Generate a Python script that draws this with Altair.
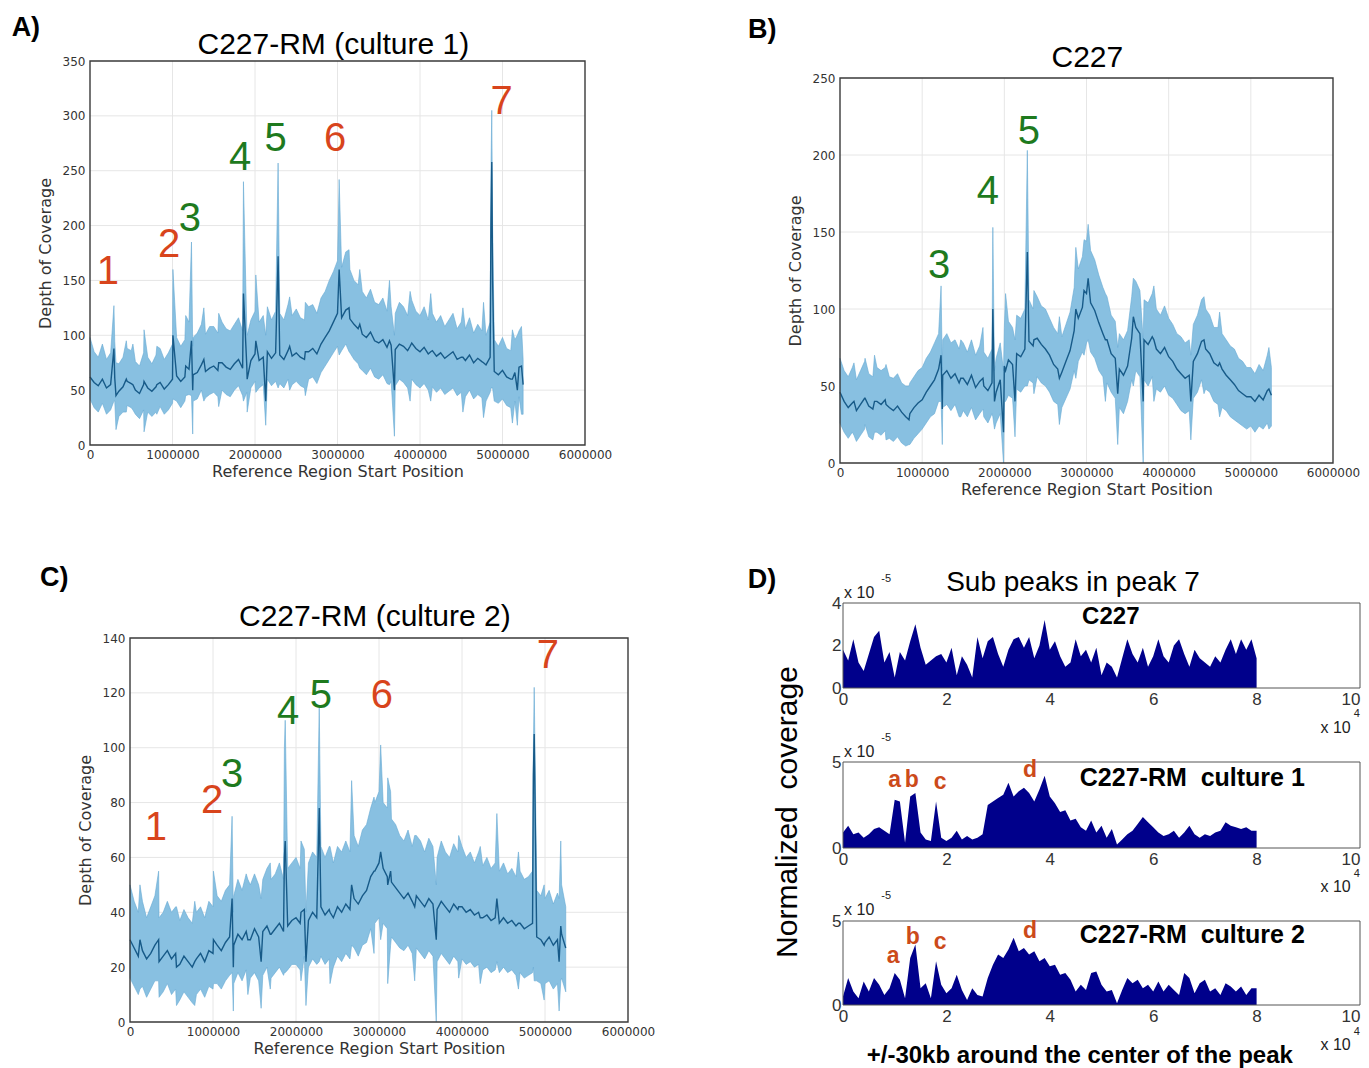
import altair as alt
import pandas as pd

WIDTH, HEIGHT = 1353, 1060
STEP = 50000          # spacing of the coverage bins (bp)
D_STEP = 0.1          # spacing of the sub-peak bins (x 10^4 bp)
XMAX = 6000000
X_TICKS = [0, 1000000, 2000000, 3000000, 4000000, 5000000, 6000000]

RED = "#d8441c"
GREEN = "#1e7a1e"
LETTER_RED = "#cc4a1a"
BAND = "#88c0e1"
BAND_EDGE = "#67aad4"
MEAN_COL = "#175a88"
GRID = "#e6e6e6"
FRAME = "#3a3a3a"
NAVY = "#00008b"
AXIS_TEXT = "#333333"
DEJAVU = "DejaVu Sans"
SANS = "Liberation Sans"

# ---------------- Panel A : C227-RM (culture 1) ----------------
A_MEAN = [62, 57, 54, 60, 52, 55, 61, 49, 53, 58,
          56, 50, 47, 55, 52, 49, 53, 57, 51, 55,
          60, 63, 58, 62, 69, 64, 66, 73, 67, 70,
          72, 68, 75, 71, 69, 74, 78, 70, 73, 77,
          83, 77, 80, 85, 79, 84, 82, 78, 86, 81,
          84, 80, 78, 85, 88, 83, 92, 98, 104, 112,
          120, 116, 123, 115, 110, 106, 101, 98, 103, 95,
          93, 96, 89, 91, 87, 92, 90, 86, 93, 88,
          85, 89, 83, 86, 81, 84, 79, 82, 85, 78,
          80, 77, 82, 75, 79, 76, 73, 80, 67, 64,
          68, 62, 60, 66, 71, 55]
A_UPPER = [98, 85, 80, 92, 78, 84, 94, 74, 80, 88,
           86, 76, 72, 84, 80, 74, 82, 88, 78, 84,
           92, 98, 90, 96, 112, 98, 102, 110, 101, 108,
           108, 102, 112, 106, 104, 110, 116, 104, 108, 114,
           122, 112, 118, 126, 114, 122, 120, 114, 128, 118,
           124, 116, 114, 126, 128, 120, 134, 140, 150, 158,
           168, 162, 176, 160, 150, 146, 140, 134, 142, 130,
           128, 134, 122, 126, 120, 130, 126, 118, 132, 122,
           118, 126, 114, 120, 112, 118, 108, 114, 120, 106,
           112, 106, 116, 102, 110, 104, 100, 112, 96, 90,
           98, 88, 86, 96, 104, 78]
A_LOWER = [42, 34, 30, 38, 28, 32, 40, 26, 30, 36,
           34, 28, 24, 32, 30, 26, 30, 35, 28, 32,
           38, 40, 34, 40, 46, 40, 42, 50, 43, 46,
           48, 44, 50, 46, 44, 50, 54, 45, 48, 52,
           58, 52, 55, 60, 54, 58, 56, 52, 60, 55,
           58, 54, 52, 60, 62, 56, 66, 72, 78, 84,
           90, 86, 92, 84, 78, 74, 68, 64, 70, 62,
           60, 64, 56, 58, 54, 60, 57, 52, 60, 55,
           52, 56, 50, 53, 48, 52, 46, 49, 52, 45,
           48, 44, 50, 42, 46, 43, 40, 48, 40, 38,
           42, 36, 34, 40, 44, 28]
# (position, upper, lower, mean)
A_SPIKES = [(290000, 127, 40, 88), (315000, 75, 14, 45), (440000, 95, 30, 60),
            (520000, 92, 32, 55), (655000, 105, 12, 58), (810000, 90, 28, 55),
            (1005000, 160, 42, 100), (1160000, 118, 45, 72), (1230000, 185, 45, 95),
            (1245000, 90, 10, 50), (1380000, 125, 40, 78), (1560000, 120, 35, 75),
            (1860000, 240, 40, 138), (1905000, 100, 30, 60), (2010000, 155, 48, 95),
            (2130000, 100, 18, 40), (2280000, 257, 52, 172), (2420000, 135, 50, 90),
            (2610000, 130, 45, 85), (3020000, 242, 82, 160), (3140000, 178, 85, 125),
            (3270000, 160, 70, 110), (3630000, 150, 55, 95), (3690000, 100, 8, 50),
            (3880000, 140, 40, 90), (4130000, 138, 40, 85), (4520000, 125, 30, 80),
            (4770000, 130, 25, 75), (4860000, 250, 52, 200), (4870000, 305, 52, 258),
            (4880000, 200, 52, 150), (5120000, 105, 20, 60), (5180000, 100, 18, 50),
            (5230000, 108, 28, 72)]
A_LABELS = ["1", "2", "3", "4", "5", "6", "7"]
A_LABEL_X = [218000, 958000, 1210000, 1820000, 2250000, 2970000, 4990000]
A_LABEL_Y = [158, 182, 206, 262, 279, 279, 313]
A_LABEL_COL = [RED, RED, GREEN, GREEN, GREEN, RED, RED]

# ---------------- Panel B : C227 ----------------
B_MEAN = [46, 40, 36, 39, 34, 38, 42, 37, 35, 40,
          38, 41, 36, 34, 37, 33, 30, 32, 36, 39,
          41, 46, 50, 54, 61, 57, 60, 55, 58, 52,
          55, 51, 57, 49, 53, 50, 47, 52, 46, 54,
          63, 67, 64, 71, 69, 74, 79, 76, 81, 77,
          74, 70, 64, 61, 59, 66, 73, 86, 94, 101,
          110, 104, 99, 91, 84, 80, 71, 68, 61, 57,
          63, 81, 88, 84, 80, 77, 82, 74, 71, 75,
          69, 66, 61, 58, 55, 57, 66, 71, 79, 74,
          71, 65, 63, 61, 57, 54, 51, 47, 45, 43,
          43, 40, 44, 41, 47, 44]
B_UPPER = [68, 60, 56, 62, 54, 60, 66, 58, 56, 62,
           60, 62, 56, 55, 58, 52, 50, 52, 56, 60,
           62, 68, 72, 78, 84, 80, 84, 78, 80, 74,
           78, 72, 80, 70, 76, 72, 68, 74, 68, 78,
           88, 92, 88, 96, 94, 100, 106, 100, 108, 102,
           100, 94, 88, 84, 82, 90, 98, 114, 126, 134,
           144, 138, 132, 122, 114, 108, 96, 92, 84, 80,
           86, 108, 118, 112, 106, 104, 110, 100, 96, 102,
           94, 90, 84, 82, 78, 80, 90, 96, 106, 100,
           96, 88, 88, 84, 80, 76, 74, 68, 66, 62,
           62, 58, 64, 60, 70, 62]
B_LOWER = [26, 20, 16, 20, 14, 18, 22, 17, 15, 20,
           18, 21, 16, 14, 17, 13, 11, 12, 16, 19,
           22, 26, 30, 32, 40, 36, 38, 34, 38, 30,
           34, 30, 36, 28, 32, 30, 26, 32, 26, 32,
           40, 44, 42, 48, 46, 50, 54, 52, 56, 52,
           50, 46, 40, 38, 36, 42, 48, 60, 66, 72,
           78, 72, 68, 60, 56, 52, 46, 42, 36, 32,
           40, 54, 60, 56, 54, 50, 56, 48, 46, 50,
           44, 42, 38, 34, 32, 34, 42, 46, 54, 48,
           46, 40, 38, 36, 34, 30, 28, 26, 24, 22,
           24, 20, 24, 22, 26, 24]
B_SPIKES = [(170000, 65, 18, 40), (305000, 68, 25, 42), (420000, 70, 20, 40),
            (560000, 64, 15, 38), (840000, 50, 12, 28), (1230000, 115, 40, 70),
            (1245000, 60, 12, 35), (1470000, 80, 30, 55), (1740000, 88, 35, 55),
            (1860000, 153, 30, 100), (1880000, 60, 22, 40), (1990000, 60, 0, 20),
            (2015000, 110, 40, 60), (2130000, 80, 17, 40), (2280000, 203, 50, 137),
            (2360000, 112, 45, 80), (2670000, 95, 25, 55), (2870000, 140, 55, 100),
            (2970000, 145, 70, 112), (3020000, 155, 80, 120), (3230000, 110, 40, 80),
            (3380000, 75, 12, 45), (3570000, 120, 50, 95), (3690000, 80, 0, 40),
            (3820000, 115, 40, 80), (4270000, 70, 15, 40), (4430000, 108, 45, 80),
            (4620000, 98, 30, 65), (5220000, 75, 22, 48)]
B_LABELS = ["3", "4", "5"]
B_LABEL_X = [1205000, 1800000, 2300000]
B_LABEL_Y = [128, 176, 215]
B_LABEL_COL = [GREEN, GREEN, GREEN]

# ---------------- Panel C : C227-RM (culture 2) ----------------
C_MEAN = [30, 27, 24, 26, 23, 25, 28, 22, 24, 26,
          23, 25, 21, 24, 22, 20, 23, 25, 22, 26,
          25, 28, 26, 29, 31, 28, 32, 30, 33, 30,
          34, 31, 33, 35, 32, 34, 36, 33, 35, 37,
          38, 36, 41, 37, 40, 38, 42, 39, 41, 38,
          42, 40, 43, 41, 45, 43, 46, 48, 53, 55,
          58, 56, 53, 51, 49, 47, 45, 47, 44, 46,
          44, 42, 45, 43, 41, 44, 42, 40, 43, 41,
          42, 40, 41, 39, 40, 38, 39, 37, 38, 36,
          38, 36, 37, 35, 36, 34, 35, 36, 31, 30,
          29, 31, 28, 30, 32, 27]
C_UPPER = [50, 44, 40, 44, 38, 42, 46, 38, 40, 44,
           40, 42, 37, 41, 38, 36, 40, 42, 38, 44,
           42, 46, 44, 48, 50, 46, 52, 48, 54, 50,
           54, 50, 52, 56, 52, 54, 58, 52, 56, 58,
           60, 56, 63, 58, 62, 60, 64, 60, 64, 58,
           64, 62, 66, 62, 68, 64, 70, 72, 78, 80,
           84, 80, 78, 74, 72, 68, 66, 70, 64, 68,
           66, 62, 67, 64, 60, 66, 62, 60, 65, 62,
           64, 60, 62, 58, 62, 57, 60, 56, 58, 55,
           58, 54, 56, 53, 55, 52, 53, 55, 48, 46,
           45, 48, 43, 47, 50, 42]
C_LOWER = [16, 13, 10, 13, 9, 12, 15, 9, 11, 14,
           10, 12, 8, 11, 9, 7, 10, 12, 9, 13,
           12, 14, 12, 15, 17, 14, 18, 15, 19, 16,
           18, 15, 17, 20, 16, 18, 20, 17, 19, 21,
           21, 19, 24, 20, 23, 21, 24, 21, 23, 20,
           24, 22, 25, 23, 27, 24, 28, 29, 34, 36,
           38, 36, 34, 31, 29, 27, 26, 28, 25, 27,
           25, 23, 26, 24, 22, 25, 23, 21, 24, 22,
           23, 21, 22, 20, 21, 19, 20, 18, 19, 18,
           20, 18, 19, 17, 18, 16, 17, 18, 15, 14,
           14, 15, 12, 14, 16, 11]
C_SPIKES = [(120000, 50, 12, 30), (345000, 55, 15, 30), (560000, 42, 6, 20),
            (780000, 44, 6, 22), (1005000, 55, 14, 30), (1230000, 75, 18, 45),
            (1245000, 40, 4, 20), (1420000, 52, 10, 30), (1580000, 45, 5, 22),
            (1690000, 58, 12, 32), (1860000, 100, 18, 60), (1870000, 110, 18, 66),
            (2060000, 66, 15, 40), (2120000, 40, 6, 22), (2280000, 115, 22, 78),
            (2410000, 64, 14, 40), (2670000, 88, 28, 50), (2940000, 82, 25, 55),
            (3020000, 101, 30, 62), (3105000, 89, 14, 50), (3140000, 84, 28, 55),
            (3430000, 68, 15, 42), (3690000, 50, 0, 30), (3960000, 68, 16, 42),
            (4220000, 64, 14, 38), (4420000, 76, 22, 45), (4680000, 62, 12, 36),
            (4860000, 100, 20, 90), (4870000, 122, 15, 105), (4990000, 50, 8, 28),
            (5170000, 45, 4, 22), (5190000, 66, 15, 35)]
C_LABELS = ["1", "2", "3", "4", "5", "6", "7"]
C_LABEL_X = [313000, 988000, 1229000, 1904000, 2300000, 3036000, 5036000]
C_LABEL_Y = [70.7, 80.6, 90, 113, 119, 119, 133.4]
C_LABEL_COL = [RED, RED, GREEN, GREEN, GREEN, RED, RED]

# ---------------- Panel D : sub peaks in peak 7 (x 10^-5) ----------------
D1_VALUES = [1.8, 1.3, 2.3, 1.2, 0.8, 1.6, 2.4, 2.7, 1.2, 1.7,
             0.5, 1.7, 1.3, 2.2, 3.0, 1.9, 1.1, 1.3, 1.5, 1.6,
             1.2, 1.9, 0.6, 1.5, 1.1, 0.5, 2.4, 1.4, 2.2, 2.4,
             1.6, 1.0, 1.8, 2.3, 2.4, 1.9, 2.4, 1.4, 2.0, 3.2,
             1.8, 2.2, 1.5, 1.0, 1.2, 2.3, 1.5, 1.8, 1.2, 1.9,
             0.6, 1.2, 1.0, 0.5, 1.4, 2.3, 1.6, 1.2, 1.9, 1.0,
             1.5, 2.3, 1.5, 1.2, 2.0, 2.3, 1.6, 1.0, 1.8, 1.4,
             1.2, 1.0, 1.5, 1.2, 1.8, 2.3, 1.6, 2.3, 1.8, 2.3,
             1.4]
D2_VALUES = [0.9, 1.3, 0.8, 0.9, 0.6, 0.8, 1.1, 1.2, 1.0, 0.8,
             2.8, 2.7, 0.3, 3.0, 3.2, 0.9, 0.5, 0.4, 2.7, 0.6,
             0.4, 0.6, 1.0, 0.5, 0.7, 0.5, 0.6, 0.8, 2.5, 2.7,
             2.9, 3.1, 3.8, 3.0, 3.3, 3.5, 3.2, 2.7, 3.4, 4.2,
             3.0, 2.6, 2.1, 2.2, 1.6, 1.7, 1.2, 1.0, 1.6, 0.9,
             1.3, 0.6, 1.1, 0.2, 0.5, 0.8, 1.0, 1.4, 1.8, 1.5,
             1.2, 0.9, 0.7, 0.8, 1.0, 0.6, 0.9, 1.3, 0.8, 0.6,
             0.8, 0.7, 0.9, 1.0, 1.5, 1.3, 1.2, 1.1, 1.2, 1.0,
             1.0]
D3_VALUES = [0.5, 1.6, 0.8, 0.4, 1.4, 0.8, 1.6, 1.2, 0.6, 1.0,
             1.9, 1.5, 0.4, 2.8, 3.6, 1.0, 1.3, 0.4, 2.6, 1.2,
             0.7, 1.0, 1.8, 0.9, 0.3, 1.0, 0.6, 0.5, 1.6, 2.4,
             3.0, 2.8, 3.3, 4.0, 3.2, 3.4, 3.0, 3.2, 2.6, 2.8,
             2.3, 2.4, 1.8, 1.9, 1.5, 0.8, 1.2, 0.9, 1.9, 2.0,
             1.2, 0.8, 0.9, 0.1, 0.9, 1.6, 1.3, 1.5, 1.0, 1.2,
             0.8, 1.4, 0.8, 1.2, 0.9, 0.6, 1.9, 1.6, 0.7, 1.3,
             1.5, 0.8, 1.0, 0.6, 1.3, 1.1, 0.8, 1.1, 0.6, 1.0,
             1.0]
D2_LETTERS = ["a", "b", "c", "d"]
D2_LETTER_X = [1.0, 1.33, 1.88, 3.62]
D2_LETTER_Y = [3.95, 3.95, 3.84, 4.53]
D3_LETTERS = ["a", "b", "c", "d"]
D3_LETTER_X = [0.97, 1.35, 1.88, 3.62]
D3_LETTER_Y = [2.92, 4.05, 3.75, 4.4]

# ---------------- layout of the panels (pixel ranges) ----------------
A_XR, A_YR = [82, 577], [437, 53]
B_XR, B_YR = [832, 1325], [455, 70]
C_XR, C_YR = [122, 620], [1014, 630]
D_XR = [835, 1352]
D1_YR, D2_YR, D3_YR = [680, 595], [840, 754], [997, 913]


def coverage_frame(mean, upper, lower, spikes):
    rows = [{"pos": i * STEP, "mean": m, "upper": u, "lower": l}
            for i, (m, u, l) in enumerate(zip(mean, upper, lower))]
    rows += [{"pos": p, "upper": u, "lower": l, "mean": m} for p, u, l, m in spikes]
    return pd.DataFrame(rows).sort_values("pos").reset_index(drop=True)


def text_layer(xs, ys, labels, colors, X, Y, size, weight="normal", font=SANS,
               align="center", baseline="middle", angle=0):
    df = pd.DataFrame({"tx": xs, "ty": ys, "label": labels, "col": colors})
    return alt.Chart(df).mark_text(font=font, fontSize=size, fontWeight=weight,
                                   align=align, baseline=baseline, angle=angle).encode(
        x=alt.X("tx:Q", scale=X),
        y=alt.Y("ty:Q", scale=Y),
        text="label:N",
        color=alt.Color("col:N", scale=None),
    )


def coverage_panel(df, xr, yr, ymax, ystep, title, title_xy, letter, letter_xy, labels):
    X = alt.Scale(domain=[0, XMAX], range=xr, nice=False, zero=False)
    Y = alt.Scale(domain=[0, ymax], range=yr, nice=False, zero=False)
    y_ticks = list(range(0, ymax + 1, ystep))
    vgrid = pd.DataFrame({"gx": X_TICKS[1:-1], "g0": 0, "g1": ymax})
    hgrid = pd.DataFrame({"gy": y_ticks[1:-1], "g0": 0, "g1": XMAX})
    frame = pd.DataFrame({"x0": [0], "x1": [XMAX], "y0": [0], "y1": [ymax]})

    x_axis = alt.Axis(orient="bottom", offset=yr[0] - HEIGHT, values=X_TICKS, format="d",
                      labelFlush=False, labelOverlap=False, ticks=False, domain=False, grid=False,
                      labelFont=DEJAVU, labelFontSize=12, labelColor=AXIS_TEXT, labelPadding=4,
                      title="Reference Region Start Position", titleFont=DEJAVU, titleFontSize=16,
                      titleFontWeight="normal", titleColor=AXIS_TEXT, titlePadding=3)
    y_axis = alt.Axis(orient="left", offset=-xr[0], values=y_ticks, format="d",
                      labelOverlap=False, ticks=False, domain=False, grid=False,
                      labelFont=DEJAVU, labelFontSize=12, labelColor=AXIS_TEXT, labelPadding=5,
                      title="Depth of Coverage", titleFont=DEJAVU, titleFontSize=16,
                      titleFontWeight="normal", titleColor=AXIS_TEXT, titlePadding=9)

    gv = alt.Chart(vgrid).mark_rule(color=GRID, strokeWidth=1).encode(
        x=alt.X("gx:Q", scale=X, axis=x_axis), y=alt.Y("g0:Q", scale=Y, axis=y_axis), y2="g1:Q")
    gh = alt.Chart(hgrid).mark_rule(color=GRID, strokeWidth=1).encode(
        y=alt.Y("gy:Q", scale=Y), x=alt.X("g0:Q", scale=X), x2="g1:Q")
    band = alt.Chart(df).mark_area(color=BAND, stroke=BAND_EDGE, strokeWidth=0.6).encode(
        x=alt.X("pos:Q", scale=X),
        y=alt.Y("lower:Q", scale=Y),
        y2="upper:Q")
    line = alt.Chart(df).mark_line(color=MEAN_COL, strokeWidth=1.4).encode(
        x=alt.X("pos:Q", scale=X), y=alt.Y("mean:Q", scale=Y))
    box = alt.Chart(frame).mark_rect(fillOpacity=0, stroke=FRAME, strokeWidth=1.4).encode(
        x=alt.X("x0:Q", scale=X), x2="x1:Q",
        y=alt.Y("y0:Q", scale=Y), y2="y1:Q")

    t_title = text_layer([title_xy[0]], [title_xy[1]], [title], ["black"], X, Y, 30)
    t_letter = text_layer([letter_xy[0]], [letter_xy[1]], [letter], ["black"], X, Y, 27,
                          weight="bold", align="left")
    t_nums = text_layer(labels[1], labels[2], labels[0], labels[3], X, Y, 40)
    return alt.layer(gv, gh, band, line, box, t_title, t_letter, t_nums)


def sub_panel(values, yr, ymax, y_ticks, extra):
    X = alt.Scale(domain=[0, 10], range=D_XR, nice=False, zero=False)
    Y = alt.Scale(domain=[0, ymax], range=yr, nice=False, zero=False)
    df = pd.DataFrame({"pos": [round(i * D_STEP, 2) for i in range(len(values))], "v": values})
    frame = pd.DataFrame({"x0": [0], "x1": [10], "y0": [0], "y1": [ymax]})
    x_axis = alt.Axis(orient="bottom", offset=yr[0] - HEIGHT, values=[0, 2, 4, 6, 8, 10],
                      format="d", labelFlush=False, labelOverlap=False, ticks=False,
                      domain=False, grid=False,
                      labelAlign=alt.condition("datum.value == 10", alt.value("right"),
                                               alt.value("center")),
                      labelFont=SANS, labelFontSize=17, labelColor=AXIS_TEXT, labelPadding=3,
                      title=None)
    y_axis = alt.Axis(orient="left", offset=-D_XR[0], values=y_ticks, format="d",
                      labelOverlap=False, ticks=False, domain=False, grid=False,
                      labelFont=SANS, labelFontSize=17, labelColor=AXIS_TEXT, labelPadding=2,
                      title=None)
    area = alt.Chart(df).mark_area(color=NAVY).encode(
        x=alt.X("pos:Q", scale=X, axis=x_axis),
        y=alt.Y("v:Q", scale=Y, axis=y_axis))
    box = alt.Chart(frame).mark_rect(fillOpacity=0, stroke="#555555", strokeWidth=1).encode(
        x=alt.X("x0:Q", scale=X), x2="x1:Q",
        y=alt.Y("y0:Q", scale=Y), y2="y1:Q")
    layers = [area, box] + [fn(X, Y) for fn in extra]
    return alt.layer(*layers)


def exponent_marks(top_y, sup_y, low_y, low_sup_y):
    return [
        lambda X, Y: text_layer([0.02], [top_y], ["x 10"], ["#222"], X, Y, 16, align="left"),
        lambda X, Y: text_layer([0.74], [sup_y], ["-5"], ["#222"], X, Y, 11, align="left"),
        lambda X, Y: text_layer([9.82], [low_y], ["x 10"], ["#222"], X, Y, 16, align="right"),
        lambda X, Y: text_layer([9.88], [low_sup_y], ["4"], ["#222"], X, Y, 11, align="left"),
    ]


panel_a = coverage_panel(coverage_frame(A_MEAN, A_UPPER, A_LOWER, A_SPIKES), A_XR, A_YR, 350, 50,
                         "C227-RM (culture 1)", (2950000, 365), "A)", (-950000, 380),
                         (A_LABELS, A_LABEL_X, A_LABEL_Y, A_LABEL_COL))
panel_b = coverage_panel(coverage_frame(B_MEAN, B_UPPER, B_LOWER, B_SPIKES), B_XR, B_YR, 250, 50,
                         "C227", (3010000, 263), "B)", (-1120000, 281),
                         (B_LABELS, B_LABEL_X, B_LABEL_Y, B_LABEL_COL))
panel_c = coverage_panel(coverage_frame(C_MEAN, C_UPPER, C_LOWER, C_SPIKES), C_XR, C_YR, 140, 20,
                         "C227-RM (culture 2)", (2950000, 147.6), "C)", (-1084000, 162),
                         (C_LABELS, C_LABEL_X, C_LABEL_Y, C_LABEL_COL))

d1 = sub_panel(D1_VALUES, D1_YR, 4, [0, 2, 4], exponent_marks(4.47, 5.13, -1.88, -1.22) + [
    lambda X, Y: text_layer([-1.84], [5.08], ["D)"], ["black"], X, Y, 27, weight="bold", align="left"),
    lambda X, Y: text_layer([4.45], [4.94], ["Sub peaks in peak 7"], ["black"], X, Y, 28),
    lambda X, Y: text_layer([5.18], [3.34], ["C227"], ["black"], X, Y, 24, weight="bold"),
])
d2 = sub_panel(D2_VALUES, D2_YR, 5, [0, 5], exponent_marks(5.58, 6.4, -2.27, -1.52) + [
    lambda X, Y: text_layer([4.58], [4.07], ["C227-RM\u00a0 culture 1"], ["black"], X, Y, 25,
                            weight="bold", align="left"),
    lambda X, Y: text_layer(D2_LETTER_X, D2_LETTER_Y, D2_LETTERS, [LETTER_RED] * 4, X, Y, 23,
                            weight="bold"),
    lambda X, Y: text_layer([-1.06], [2.09], ["Normalized\u00a0 coverage"], ["black"], X, Y, 30,
                            angle=270),
])
d3 = sub_panel(D3_VALUES, D3_YR, 5, [0, 5], exponent_marks(5.65, 6.5, -2.38, -1.58) + [
    lambda X, Y: text_layer([4.58], [4.17], ["C227-RM\u00a0 culture 2"], ["black"], X, Y, 25,
                            weight="bold", align="left"),
    lambda X, Y: text_layer(D3_LETTER_X, D3_LETTER_Y, D3_LETTERS, [LETTER_RED] * 4, X, Y, 23,
                            weight="bold"),
    lambda X, Y: text_layer([4.58], [-3.04], ["+/-30kb around the center of the peak"], ["black"],
                            X, Y, 24, weight="bold"),
])

chart = alt.layer(panel_a, panel_b, panel_c, d1, d2, d3).resolve_scale(
    x="independent", y="independent"
).properties(
    width=WIDTH, height=HEIGHT,
    autosize=alt.AutoSizeParams(type="none"),
    padding=0,
).configure_view(strokeWidth=0)

chart.save("out.html", embed_options={"renderer": "svg", "actions": False})
